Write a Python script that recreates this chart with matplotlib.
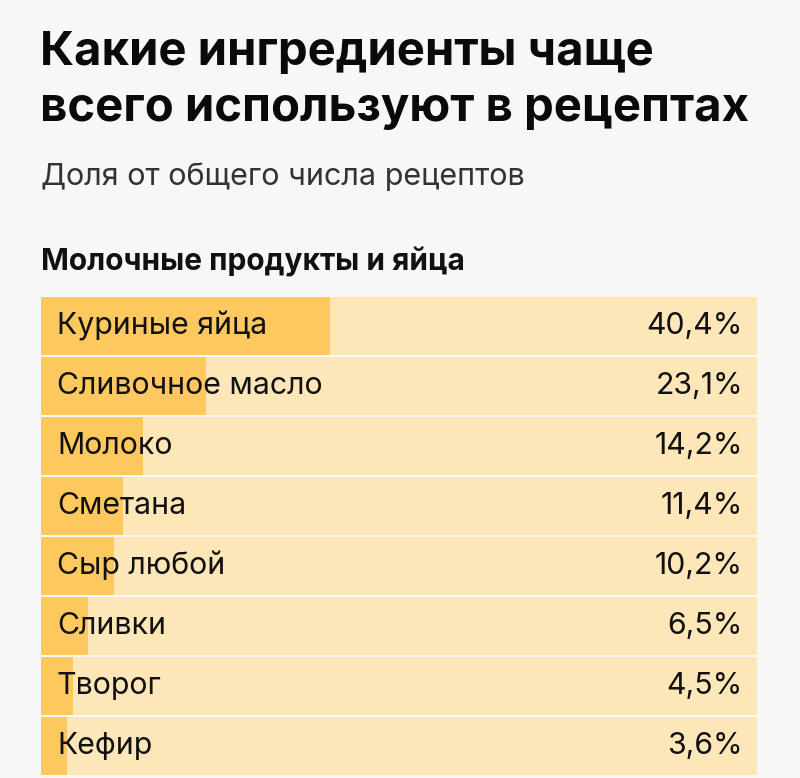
import matplotlib
matplotlib.use('Agg')
import matplotlib.pyplot as plt

plt.rcParams['font.family'] = ['Inter', 'DejaVu Sans']

ingredients = ['Куриные яйца', 'Сливочное масло', 'Молоко', 'Сметана',
               'Сыр любой', 'Сливки', 'Творог', 'Кефир']
shares = [40.4, 23.1, 14.2, 11.4, 10.2, 6.5, 4.5, 3.6]
share_labels = ['40,4%', '23,1%', '14,2%', '11,4%', '10,2%', '6,5%', '4,5%', '3,6%']

W, H = 800, 778
fig = plt.figure(figsize=(W / 100, H / 100), dpi=100)
fig.patch.set_facecolor('#f7f7f7')

# pixel-from-top -> figure fraction
def fy(px):
    return 1 - px / H

fig.text(40 / W, fy(65), 'Какие ингредиенты чаще', fontsize=34, fontweight='bold',
         color='#0a0a0a', va='baseline')
fig.text(40 / W, fy(121), 'всего используют в рецептах', fontsize=34, fontweight='bold',
         color='#0a0a0a', va='baseline')
fig.text(41 / W, fy(185), 'Доля от общего числа рецептов', fontsize=22,
         color='#333333', va='baseline')
fig.text(41 / W, fy(271), 'Молочные продукты и яйца', fontsize=21.5, fontweight='bold',
         color='#111111', va='baseline')

# bars area
left, right = 41, 757
top = 297
n = len(ingredients)
row = 60
ax = fig.add_axes([left / W, fy(top + n * row), (right - left) / W, n * row / H])
ax.set_facecolor('none')

ypos = list(range(n))
ax.barh(ypos, [100] * n, height=58 / 60, color='#fde6b8', align='center')
ax.barh(ypos, shares, height=58 / 60, color='#fdc95e', align='center')

for i in range(n):
    ax.text(16 / (right - left) * 100, i + 0.14, ingredients[i], fontsize=21.8,
            color='#111111', va='baseline', ha='left')
    ax.text(100 - 14 / (right - left) * 100, i + 0.14, share_labels[i], fontsize=21.8,
            color='#111111', va='baseline', ha='right')

ax.set_xlim(0, 100)
ax.set_ylim(n - 0.5 + 1 / 60, -0.5 + 1 / 60)
ax.axis('off')

fig.savefig('out.png', dpi=100, facecolor=fig.get_facecolor())
